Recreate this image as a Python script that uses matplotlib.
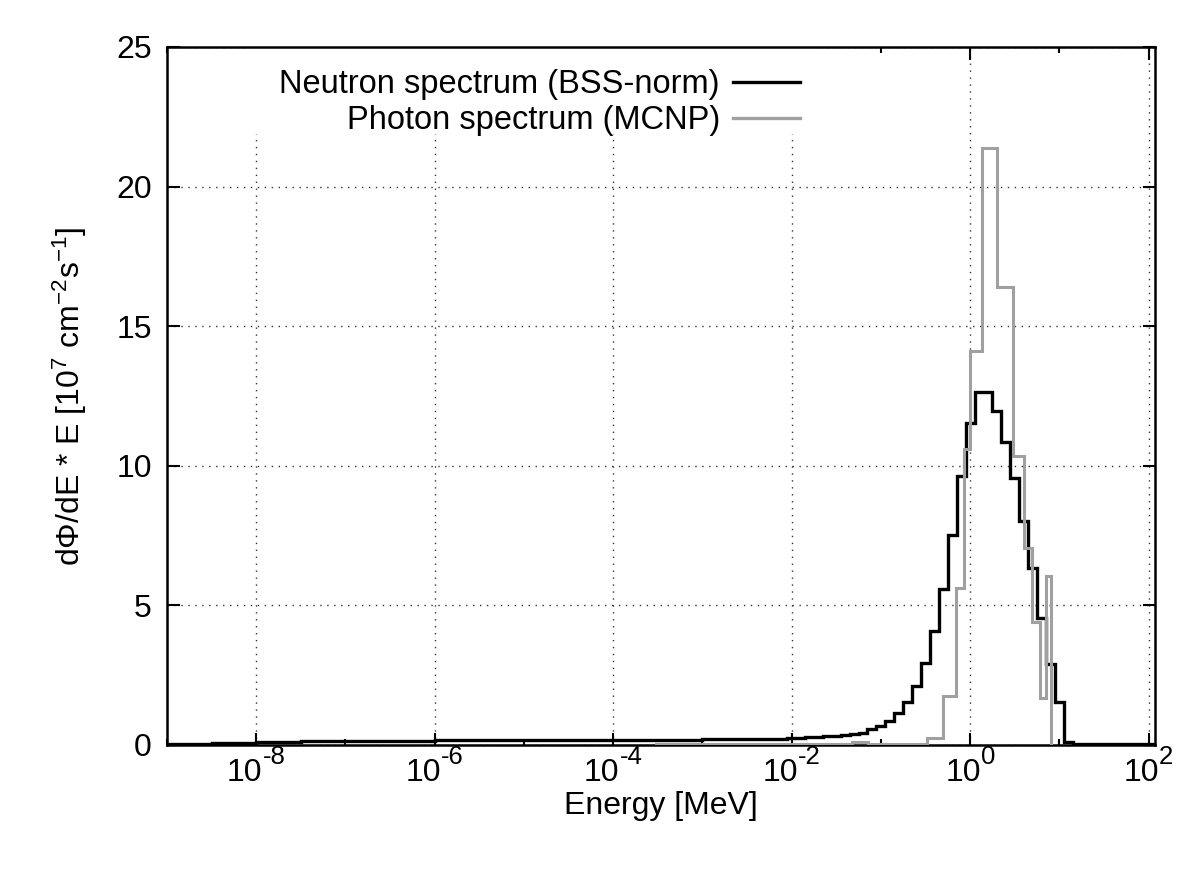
import numpy as np
import matplotlib
matplotlib.use("Agg")
import matplotlib.pyplot as plt
from matplotlib.patches import Rectangle
from matplotlib.ticker import FixedLocator, NullFormatter

plt.rcParams['font.family'] = ['Liberation Sans', 'DejaVu Sans']
plt.rcParams['mathtext.fontset'] = 'custom'
plt.rcParams['mathtext.rm'] = 'Liberation Sans'
plt.rcParams['mathtext.it'] = 'Liberation Sans:italic'
plt.rcParams['mathtext.bf'] = 'Liberation Sans:bold'
plt.rcParams['mathtext.sf'] = 'Liberation Sans'

# neutron spectrum (BSS unfolding), bin edges in log10(E/MeV)
neutron_log_edges = [-9.0, -8.5, -8.0, -7.5, -7.0, -6.5, -6.0, -5.5, -5.0, -4.5,
                     -4.0, -3.5, -3.0, -2.5, -2.05, -1.95, -1.85, -1.75, -1.65,
                     -1.55, -1.45, -1.35, -1.25, -1.15, -1.05, -0.95, -0.85,
                     -0.75, -0.65, -0.55, -0.45, -0.35, -0.25, -0.15, -0.05,
                     0.05, 0.15, 0.25, 0.35, 0.45, 0.55, 0.65, 0.75, 0.85, 0.95,
                     1.05, 1.15, 2.07]
neutron_vals = [0.04, 0.08, 0.11, 0.13, 0.15, 0.16, 0.17, 0.17, 0.18, 0.18,
                0.18, 0.19, 0.21, 0.23,
                0.25, 0.26, 0.28, 0.30, 0.32, 0.34, 0.37, 0.40,
                0.44, 0.56, 0.68, 0.87, 1.14, 1.55, 2.11, 2.93, 4.07, 5.6,
                7.53, 9.64, 11.55, 12.66, 12.66, 11.95, 10.87, 9.58, 8.03,
                6.33, 4.54, 2.89, 1.55, 0.12,
                0.02]

# photon spectrum (MCNP), bin edges in MeV
photon_edges = [3e-4, 0.048, 0.072, 0.2, 0.33, 0.5, 0.7, 0.86, 1.0, 1.35,
                2.0, 3.0, 4.0, 5.0, 6.0, 7.0, 8.0]
photon_vals = [0.03, 0.12, 0.02, 0.05, 0.25, 1.76, 5.64, 10.6, 14.1, 21.4,
               16.4, 10.36, 7.05, 4.42, 1.7, 6.07]

x_major = [1e-8, 1e-6, 1e-4, 1e-2, 1e0, 1e2]
x_exps = ['-8', '-6', '-4', '-2', '0', '2']
x_minor = [1e-9, 1e-7, 1e-5, 1e-3, 1e-1, 1e1]
y_major = [0, 5, 10, 15, 20, 25]

FS = 23
FS_SUP = 18.5

fig = plt.figure(figsize=(12, 8.76), dpi=100)
ax = fig.add_axes([167/1200, 1-745/876, 988/1200, 698/876])

neutron_edges = 10.0 ** np.array(neutron_log_edges)
ax.stairs(neutron_vals, neutron_edges, baseline=0, color='black', lw=2.4, zorder=3)
ax.stairs(photon_vals, photon_edges, baseline=0, color='#a0a0a0', lw=2.2, zorder=4)

ax.set_xscale('log')
ax.set_xlim(1e-9, 1.18e2)
ax.set_ylim(0, 25)
ax.set_xticks(x_major)
ax.set_xticklabels([''] * len(x_major))
ax.xaxis.set_minor_locator(FixedLocator(x_minor))
ax.xaxis.set_minor_formatter(NullFormatter())
ax.set_yticks(y_major)

ax.set_axisbelow(True)
ax.grid(True, which='major', color='#333333', linestyle=(0, (1, 4)), lw=1.0)

ax.tick_params(which='both', direction='in', top=True, right=True,
               labelsize=FS, width=1.5)
ax.tick_params(which='major', length=9)
ax.tick_params(axis='y', pad=11)
ax.tick_params(which='minor', length=4.5)
for s in ax.spines.values():
    s.set_linewidth(1.8)

# gnuplot-like "10^n" tick labels with larger superscripts
for xv, e in zip(x_major, x_exps):
    w_base = FS * 1.112
    w_exp = FS_SUP * (0.556 * len(e.strip('-')) + (0.333 if e.startswith('-') else 0))
    dx = w_base - (w_base + w_exp) / 2
    ax.annotate('10', xy=(xv, 0), xycoords=('data', 'axes fraction'),
                xytext=(dx, -26), textcoords='offset points',
                ha='right', va='baseline', fontsize=FS)
    ax.annotate(e, xy=(xv, 0), xycoords=('data', 'axes fraction'),
                xytext=(dx, -14), textcoords='offset points',
                ha='left', va='baseline', fontsize=FS_SUP)

ax.set_xlabel('Energy [MeV]', fontsize=FS)
ax.xaxis.set_label_coords(0.5, -0.0655)
ax.set_ylabel(r'd$\Phi$/dE * E [10$^{7}$ cm$^{-2}$s$^{-1}$]', fontsize=FS)
ax.yaxis.set_label_coords(-0.079, 0.5)

# legend in gnuplot style: opaque key box, text right-aligned, sample on the right
ax.add_patch(Rectangle((0.08, 0.875), 0.575, 0.125, transform=ax.transAxes,
                       facecolor='white', edgecolor='none', zorder=1))
labels = ['Neutron spectrum (BSS-norm)', 'Photon spectrum (MCNP)']
colors = ['black', '#a0a0a0']
text_rows = [0.934, 0.8825]
line_rows = [0.95, 0.898]
for lab, col, ty, ly in zip(labels, colors, text_rows, line_rows):
    ax.text(0.5597, ty, lab, transform=ax.transAxes, ha='right', va='baseline',
            fontsize=23.5, zorder=5)
    ax.plot([0.573, 0.641], [ly, ly], transform=ax.transAxes, color=col,
            lw=2.4, zorder=5)

fig.savefig('out.png', dpi=100)
